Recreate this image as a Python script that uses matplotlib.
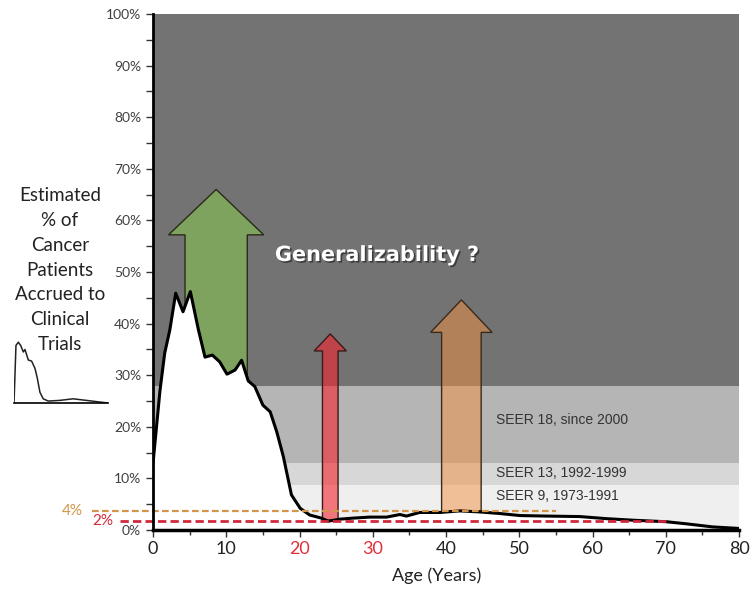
import numpy as np
import matplotlib.pyplot as plt
import matplotlib.patheffects as pe
from matplotlib.patches import FancyArrow

# accrual curve, % of patients on trials by age
age = [0, 0.95, 1.6, 2.3, 3.1, 4.1, 5.1, 6.2, 7.1, 8.1, 9.1, 10.1, 11.2, 12.1,
       13.0, 13.9, 15.0, 16.0, 16.9, 17.8, 18.9, 20.1, 21.4, 23.0, 23.9, 25.5,
       27.3, 29.6, 31.9, 33.7, 34.6, 36.4, 39.2, 41.9, 44.6, 47.3, 50.1, 53.7,
       58.3, 61.9, 65.5, 70.1, 72.8, 76.4, 80]
pct = [12.9, 27.0, 34.3, 38.8, 45.9, 42.3, 46.2, 38.8, 33.5, 33.9, 32.6, 30.2,
       31.0, 32.9, 28.9, 27.8, 24.2, 22.9, 19.0, 14.2, 6.8, 4.2, 2.9, 2.3, 1.7,
       2.1, 2.3, 2.5, 2.5, 3.0, 2.7, 3.4, 3.4, 3.7, 3.5, 3.2, 2.8, 2.7, 2.6,
       2.2, 1.9, 1.6, 1.2, 0.6, 0.3]

# small thumbnail curve on the left
mini_x = [0, 2.1, 4.6, 7.1, 9.9, 11.7, 15.2, 18.7, 22.3, 24.7, 27.6, 31.1,
          36.4, 48.8, 62.9, 77.0, 91.2, 100]
mini_y = [0, 94.7, 100, 94.7, 84, 88, 70.7, 69, 57, 41.5, 17.6, 6.9,
          3.2, 4.3, 6.9, 4.3, 1.6, 0]

# SEER coverage bands (bottom, top, label)
band_edges = [0, 8.7, 13.0, 28.0, 100]
band_colors = ['#efefef', '#d7d7d7', '#b5b5b5', '#737373']
band_labels = ['SEER 9, 1973-1991', 'SEER 13, 1992-1999', 'SEER 18, since 2000', None]
band_label_y = [6.5, 11.0, 21.3]

# reference levels
ref_levels = [3.6, 1.8]
ref_texts = ['4%', '2%']
ref_colors = ['#d4944a', '#d0283a']
ref_span = [(-8.3, 55), (-4.5, 70)]

xticks = list(range(0, 81, 10))
yticks = list(range(0, 101, 10))
red_ticks = [20, 30]

fig = plt.figure(figsize=(7.54, 5.9), dpi=100)
ax = fig.add_axes([153 / 754, 60 / 590, 586 / 754, 516 / 590])
ax.set_xlim(0, 80)
ax.set_ylim(0, 100)

for i in range(len(band_colors)):
    ax.axhspan(band_edges[i], band_edges[i + 1], color=band_colors[i], lw=0, zorder=0)
for lab, yy in zip(band_labels, band_label_y):
    ax.text(46.8, yy, lab, fontsize=10, family='Liberation Sans', color='#333333',
            va='center', ha='left', zorder=6)

# green arrow sits behind the curve
ax.add_patch(FancyArrow(8.62, 0, 0, 66, width=8.5, head_width=13.0, head_length=8.8,
                        length_includes_head=True, fc='#7ea35e', ec='#2a2a1a', lw=1, zorder=1))

ax.fill_between(age, 0, pct, color='white', lw=0, zorder=2)
ax.plot(age, pct, color='black', lw=2.2, zorder=4, solid_joinstyle='round')

ax.add_patch(FancyArrow(24.2, 1.9, 0, 36.1, width=2.13, head_width=4.4, head_length=3.3,
                        length_includes_head=True, fc=(0.95, 0.15, 0.18, 0.6),
                        ec='#3a1a1a', lw=1, zorder=3))
ax.add_patch(FancyArrow(42.1, 3.7, 0, 40.9, width=5.4, head_width=8.4, head_length=6.3,
                        length_includes_head=True, fc=(0.95, 0.565, 0.25, 0.5),
                        ec='#3a2a1a', lw=1, zorder=3))

for lvl, txt, col, (x0, x1) in zip(ref_levels, ref_texts, ref_colors, ref_span):
    ax.plot([x0, x1], [lvl, lvl], color=col, lw=1.6 if txt == '4%' else 2.0,
            ls=(0, (3, 1.5)), clip_on=False, zorder=5)
ax.text(-11.0, ref_levels[0], ref_texts[0], color=ref_colors[0], fontsize=11,
        family='Lato', ha='center', va='center', clip_on=False)
ax.text(-6.8, ref_levels[1], ref_texts[1], color=ref_colors[1], fontsize=11,
        family='Lato', ha='center', va='center', clip_on=False)

ax.text(30.6, 53.3, 'Generalizability ?', color='white', fontsize=15, fontweight='bold',
        family='DejaVu Sans', ha='center', va='center', zorder=6,
        path_effects=[pe.withSimplePatchShadow(offset=(1.2, -1.2), shadow_rgbFace='black', alpha=0.45)])

for s in ['top', 'right']:
    ax.spines[s].set_visible(False)
ax.spines['bottom'].set_linewidth(2.5)
ax.spines['left'].set_linewidth(2.0)
ax.spines['bottom'].set_zorder(7)
ax.spines['left'].set_zorder(7)

ax.set_xticks(xticks)
ax.set_xticks(range(5, 80, 10), minor=True)
ax.set_xticklabels([str(t) for t in xticks], fontsize=13, family='Lato')
for lab, t in zip(ax.get_xticklabels(), xticks):
    lab.set_color('#e0303c' if t in red_ticks else '#222222')
ax.set_yticks(yticks)
ax.set_yticks(range(5, 100, 10), minor=True)
ax.set_yticklabels([f'{t}%' for t in yticks], fontsize=10, family='Lato', color='#404040')
ax.tick_params(axis='both', which='both', direction='out', length=5, width=1, color='#333333')
ax.tick_params(axis='x', which='minor', length=3.5)
ax.tick_params(axis='x', pad=3)

ax.set_xlabel('Age (Years)', fontsize=13, family='Lato', color='#222222', labelpad=1)
ax.xaxis.set_label_coords(38.7 / 80, -0.072)

fig.text(60 / 754, 1 - 270 / 590,
         'Estimated\n% of\nCancer\nPatients\nAccrued to\nClinical\nTrials',
         fontsize=13.5, family='Lato', color='#222222', ha='center', va='center',
         linespacing=1.55)

# thumbnail curve
ins = fig.add_axes([14 / 754, 1 - 403 / 590, 94 / 754, 62 / 590])
ins.plot(mini_x, mini_y, color='#222222', lw=1.1)
ins.set_xlim(0, 100)
ins.set_ylim(0, 102)
ins.set_xticks([])
ins.set_yticks([])
for s in ['top', 'right', 'left']:
    ins.spines[s].set_visible(False)
ins.spines['bottom'].set_linewidth(1.2)
ins.patch.set_alpha(0)

fig.savefig('out.png', dpi=100)
